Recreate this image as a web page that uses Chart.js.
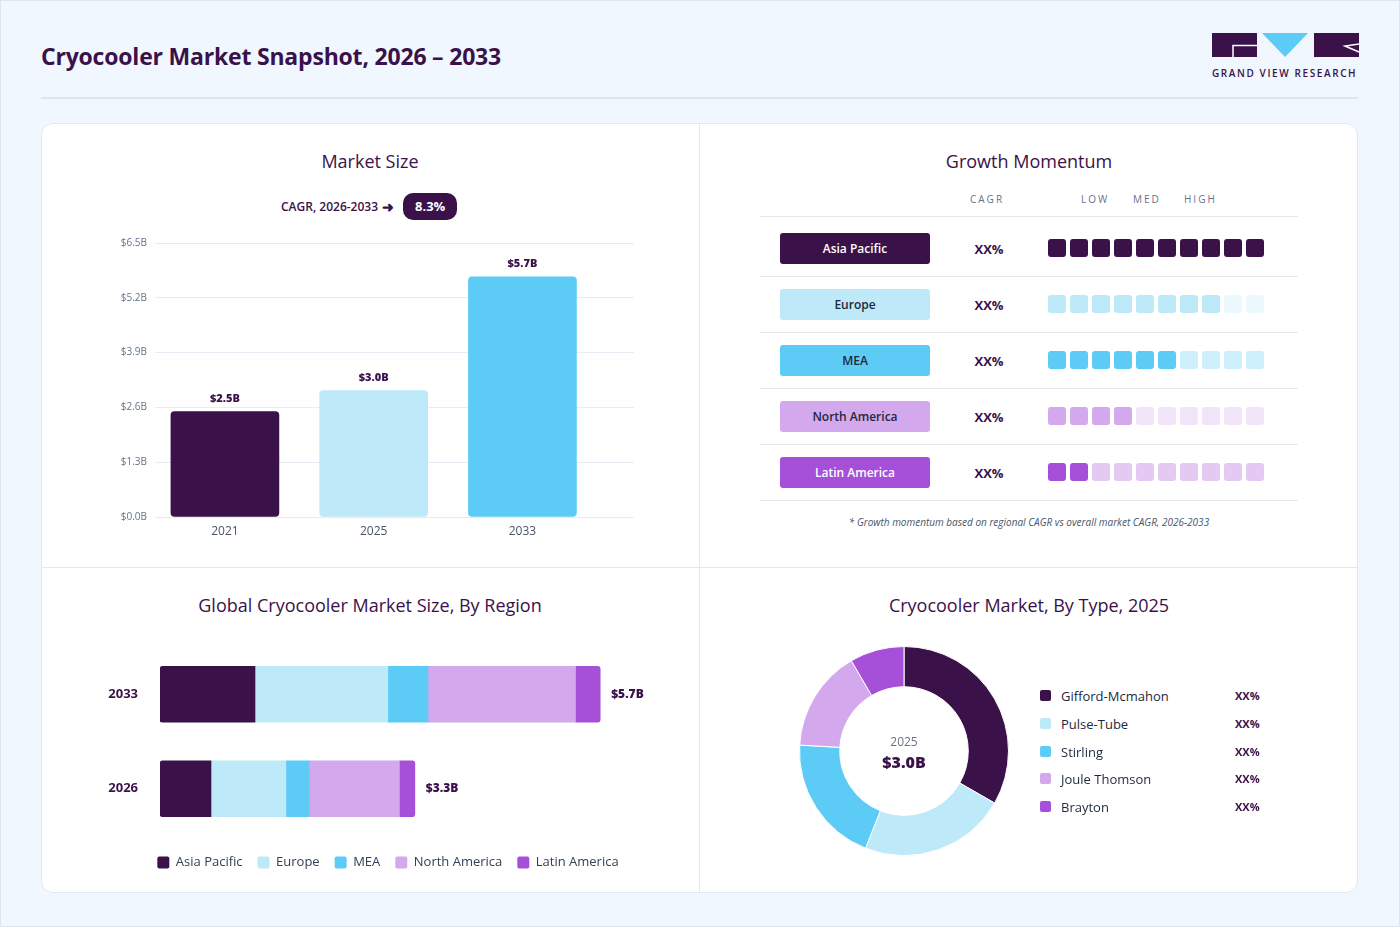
<!DOCTYPE html>
<html>
<head>
<meta charset="utf-8">
<script src="https://cdn.jsdelivr.net/npm/chart.js@4.4.1/dist/chart.umd.min.js"></script>
<style>
  body { margin: 0; font-family: "Open Sans", sans-serif; color: #3a1149; }
  #page { position: relative; width: 1400px; height: 927px; background: #f0f7fe; box-shadow: inset 0 0 0 1px #dde6ef; overflow: hidden; }
  .abs { position: absolute; }
  h1 { position: absolute; left: 41px; top: 39px; margin: 0; font-size: 23px; font-weight: 700; line-height: 34px; letter-spacing: -0.2px; }
  .rule { position: absolute; left: 41px; top: 97px; width: 1317px; height: 2px; background: #dde6ef; }
  .card { position: absolute; left: 41px; top: 123px; width: 1315px; height: 768px; background: #fff; border: 1px solid #e2e8f0; border-radius: 12px; }
  .vline { position: absolute; left: 699px; top: 124px; width: 1px; height: 768px; background: #e2e8f0; }
  .hline { position: absolute; left: 42px; top: 567px; width: 1315px; height: 1px; background: #e2e8f0; }
  .ptitle { position: absolute; width: 658px; text-align: center; font-size: 18px; font-weight: 500; line-height: 24px; }
  .cagr { position: absolute; left: 281px; top: 193px; height: 27px; display: flex; align-items: center; font-size: 12px; font-weight: 600; }
  .cagr .arr { font-size: 14px; margin-left: 4px; }
  .cagr .pill { margin-left: 9px; background: #3a1149; color: #fff; border-radius: 10px; padding: 0 12px; height: 27px; line-height: 27px; font-size: 13px; font-weight: 700; }
  .gh { position: absolute; top: 192px; font-size: 10px; letter-spacing: 2px; color: #64748b; line-height: 14px; }
  .gline { position: absolute; left: 760px; width: 538px; height: 1px; background: #e2e8f0; }
  .rpill { position: absolute; left: 780px; width: 150px; height: 31px; border-radius: 3px; text-align: center; line-height: 31px; font-size: 12px; font-weight: 600; }
  .xx { position: absolute; left: 960px; width: 58px; text-align: center; font-size: 13px; font-weight: 700; line-height: 20px; }
  .note { position: absolute; left: 760px; width: 538px; top: 515px; text-align: center; font-size: 10px; font-style: italic; color: #475569; }
  .tl { position: absolute; left: 1040px; width: 230px; height: 16px; font-size: 13px; color: #1e293b; line-height: 16px; }
  .tl .sq { position: absolute; left: 0; top: 2px; width: 11px; height: 11px; border-radius: 2px; }
  .tl .nm { position: absolute; left: 21px; top: 0; }
  .tl .pc { position: absolute; left: 195px; width: 24px; text-align: center; font-size: 11px; font-weight: 700; color: #3a1149; }
  .center { position: absolute; left: 844px; width: 120px; text-align: center; }
</style>
</head>
<body>
<div id="page">
  <h1>Cryocooler Market Snapshot, 2026 – 2033</h1>
  <svg class="abs" style="left:1210px;top:30px" width="152" height="52" viewBox="0 0 152 52">
    <rect x="2" y="3" width="45" height="24" fill="#3a1149"/>
    <path d="M23 27 V15.5 H47" stroke="#fff" stroke-width="1.5" fill="none"/>
    <polygon points="52,3 98,3 75,27" fill="#5ccbf5"/>
    <rect x="104" y="3" width="45" height="24" fill="#3a1149"/>
    <path d="M149 14 L135 16 L149 22" stroke="#fff" stroke-width="1.5" fill="none"/>
    <text x="2" y="47" font-family="Open Sans" font-size="10" font-weight="600" letter-spacing="1.6" fill="#3a1149">GRAND VIEW RESEARCH</text>
  </svg>
  <div class="rule"></div>
  <div class="card"></div>
  <div class="vline"></div>
  <div class="hline"></div>

  <div class="ptitle" style="left:41px;top:149px">Market Size</div>
  <div class="cagr">CAGR, 2026-2033<span class="arr">&#10140;</span><span class="pill">8.3%</span></div>
  <div class="abs" style="left:60px;top:226px;width:600px;height:330px"><canvas id="sizeChart"></canvas></div>

  <div class="ptitle" style="left:700px;top:149px">Growth Momentum</div>
  <div class="gh" style="left:970px">CAGR</div>
  <div class="gh" style="left:1081px">LOW</div>
  <div class="gh" style="left:1133px">MED</div>
  <div class="gh" style="left:1184px">HIGH</div>
  <div id="growthRows"></div>
  <div class="abs" style="left:1046px;top:220px;width:220px;height:280px"><canvas id="growthChart"></canvas></div>
  <div class="note">* Growth momentum based on regional CAGR vs overall market CAGR, 2026-2033</div>

  <div class="ptitle" style="left:41px;top:593px">Global Cryocooler Market Size, By Region</div>
  <div class="abs" style="left:70px;top:631px;width:636px;height:248px"><canvas id="regionChart"></canvas></div>

  <div class="ptitle" style="left:700px;top:593px">Cryocooler Market, By Type, 2025</div>
  <div class="abs" style="left:799px;top:646px;width:210px;height:210px"><canvas id="typeChart"></canvas></div>
  <div class="center" style="top:734px;font-size:12px;color:#64748b;line-height:16px">2025</div>
  <div class="center" style="top:751px;font-size:16px;font-weight:800;line-height:22px">$3.0B</div>
  <div id="typeLegend"></div>
</div>

<script>
Chart.defaults.font.family = "Open Sans";
Chart.defaults.animation = false;

// market size
const years = ["2021", "2025", "2033"];
const marketSize = [2.5, 3.0, 5.7];
const sizeTicks = [0, 1.3, 2.6, 3.9, 5.2, 6.5];

// regions
const regions = ["Asia Pacific", "Europe", "MEA", "North America", "Latin America"];
const regionColors = ["#3a1149", "#bde9f8", "#5ccbf5", "#d4a8ec", "#a64fd8"];
const regionText = ["#ffffff", "#1e293b", "#1e293b", "#1e293b", "#ffffff"];
const regionYears = ["2033", "2026"];
const regionValues = {
  "Asia Pacific": [1.23, 0.66],
  "Europe": [1.72, 0.97],
  "MEA": [0.52, 0.30],
  "North America": [1.91, 1.17],
  "Latin America": [0.32, 0.20]
};
const regionTotals = [5.7, 3.3];
const growthCagr = ["XX%", "XX%", "XX%", "XX%", "XX%"];
const growthScore = [10, 8, 6, 4, 2];
const growthSteps = 10;

// types
const types = ["Gifford-Mcmahon", "Pulse-Tube", "Stirling", "Joule Thomson", "Brayton"];
const typeShare = [33.3, 22.7, 19.9, 15.7, 8.4];
const typeLabels = ["XX%", "XX%", "XX%", "XX%", "XX%"];

const dark = "#3a1149";

const barValueLabels = {
  id: "barValueLabels",
  afterDatasetsDraw(chart) {
    const ctx = chart.ctx;
    const meta = chart.getDatasetMeta(0);
    ctx.save();
    ctx.font = "800 11px 'Open Sans'";
    ctx.fillStyle = dark;
    ctx.textAlign = "center";
    ctx.textBaseline = "middle";
    meta.data.forEach((bar, i) => {
      ctx.fillText("$" + marketSize[i].toFixed(1) + "B", bar.x, bar.y - 13);
    });
    ctx.restore();
  }
};

new Chart(document.getElementById("sizeChart"), {
  type: "bar",
  data: {
    datasets: [{
      data: years.map((y, i) => ({ x: i, y: marketSize[i] })),
      backgroundColor: [dark, "#bde9f8", "#5ccbf5"],
      barThickness: 108,
      borderRadius: 4,
      borderSkipped: false
    }]
  },
  options: {
    responsive: true,
    maintainAspectRatio: false,
    layout: { padding: { top: 17, right: 26 } },
    plugins: { legend: { display: false }, tooltip: { enabled: false } },
    scales: {
      x: {
        type: "linear",
        offset: false,
        min: -0.47,
        max: 2.75,
        grid: { display: false, drawTicks: false },
        border: { display: false },
        afterBuildTicks: (axis) => { axis.ticks = years.map((y, i) => ({ value: i })); },
        afterFit: (axis) => { axis.height = 39; },
        ticks: { padding: 7, color: "#475569", font: { size: 12, weight: 500 }, callback: (v) => years[v] }
      },
      y: {
        min: 0,
        max: 6.5,
        afterBuildTicks: (axis) => { axis.ticks = sizeTicks.map(v => ({ value: v })); },
        afterFit: (axis) => { axis.width = 95; },
        grid: { color: "#e6ecf3", drawTicks: false },
        border: { display: false },
        ticks: { padding: 8, color: "#64748b", font: { size: 10 }, callback: (v) => "$" + v.toFixed(1) + "B" }
      }
    }
  },
  plugins: [barValueLabels]
});

// growth momentum rows
const rowsEl = document.getElementById("growthRows");
let html = '<div class="gline" style="top:216px"></div>';
regions.forEach((r, i) => {
  const top = 233 + i * 56;
  html += '<div class="rpill" style="top:' + top + 'px;background:' + regionColors[i] + ';color:' + regionText[i] + '">' + r + '</div>';
  html += '<div class="xx" style="top:' + (top + 6) + 'px">' + growthCagr[i] + '</div>';
  html += '<div class="gline" style="top:' + (276 + i * 56) + 'px"></div>';
});
rowsEl.innerHTML = html;

const growthSets = [];
for (let k = 0; k < growthSteps; k++) {
  growthSets.push({
    data: regions.map(() => 1),
    backgroundColor: regions.map((r, i) => k < growthScore[i] ? regionColors[i] : regionColors[i] + "4d"),
    borderColor: "#ffffff",
    borderWidth: 2,
    borderSkipped: false,
    borderRadius: { topLeft: 5, topRight: 5, bottomLeft: 5, bottomRight: 5 },
    barThickness: 22,
    inflateAmount: 0
  });
}

new Chart(document.getElementById("growthChart"), {
  type: "bar",
  data: { labels: regions, datasets: growthSets },
  options: {
    indexAxis: "y",
    responsive: true,
    maintainAspectRatio: false,
    layout: { padding: 0 },
    plugins: { legend: { display: false }, tooltip: { enabled: false } },
    scales: {
      x: { stacked: true, min: 0, max: growthSteps, display: false },
      y: { stacked: true, display: false }
    }
  }
});

// region stacked bars
const totalLabels = {
  id: "totalLabels",
  afterDatasetsDraw(chart) {
    const ctx = chart.ctx;
    const last = chart.getDatasetMeta(chart.data.datasets.length - 1);
    ctx.save();
    ctx.font = "800 12px 'Open Sans'";
    ctx.fillStyle = dark;
    ctx.textAlign = "left";
    ctx.textBaseline = "middle";
    last.data.forEach((bar, i) => {
      ctx.fillText("$" + regionTotals[i].toFixed(1) + "B", bar.x + 11, bar.y);
    });
    ctx.restore();
  }
};

new Chart(document.getElementById("regionChart"), {
  type: "bar",
  data: {
    labels: regionYears,
    datasets: regions.map((r, i) => ({
      label: r,
      data: regionValues[r],
      backgroundColor: regionColors[i],
      barThickness: 56,
      borderSkipped: false,
      borderRadius: i === 0 ? { topLeft: 3, bottomLeft: 3 } : (i === regions.length - 1 ? { topRight: 3, bottomRight: 3 } : 0)
    }))
  },
  options: {
    indexAxis: "y",
    responsive: true,
    maintainAspectRatio: false,
    layout: { padding: { top: 16 } },
    plugins: {
      tooltip: { enabled: false },
      legend: {
        position: "bottom",
        labels: {
          boxWidth: 12,
          boxHeight: 12,
          useBorderRadius: true,
          borderRadius: 2,
          padding: 15,
          color: "#334155",
          font: { size: 13 }
        }
      }
    },
    scales: {
      x: {
        stacked: true,
        min: 0,
        max: 7.07,
        grid: { display: false },
        border: { display: false },
        ticks: { display: false },
        afterFit: (axis) => { axis.height = 5; }
      },
      y: {
        stacked: true,
        grid: { display: false, drawTicks: false },
        border: { display: false },
        afterFit: (axis) => { axis.width = 90; axis.paddingTop = 0; axis.paddingBottom = 0; },
        ticks: { padding: 22, color: dark, font: { size: 13, weight: 700 } }
      }
    }
  },
  plugins: [totalLabels]
});

// type doughnut
new Chart(document.getElementById("typeChart"), {
  type: "doughnut",
  data: {
    labels: types,
    datasets: [{
      data: typeShare,
      backgroundColor: regionColors,
      borderColor: "#ffffff",
      borderWidth: 1
    }]
  },
  options: {
    responsive: true,
    maintainAspectRatio: false,
    cutout: "61.5%",
    layout: { padding: 0 },
    plugins: { legend: { display: false }, tooltip: { enabled: false } }
  }
});

const legendEl = document.getElementById("typeLegend");
legendEl.innerHTML = types.map((t, i) =>
  '<div class="tl" style="top:' + (688 + i * 27.8) + 'px"><span class="sq" style="background:' + regionColors[i] + '"></span>' +
  '<span class="nm">' + t + '</span><span class="pc">' + typeLabels[i] + '</span></div>'
).join("");
</script>
</body>
</html>
